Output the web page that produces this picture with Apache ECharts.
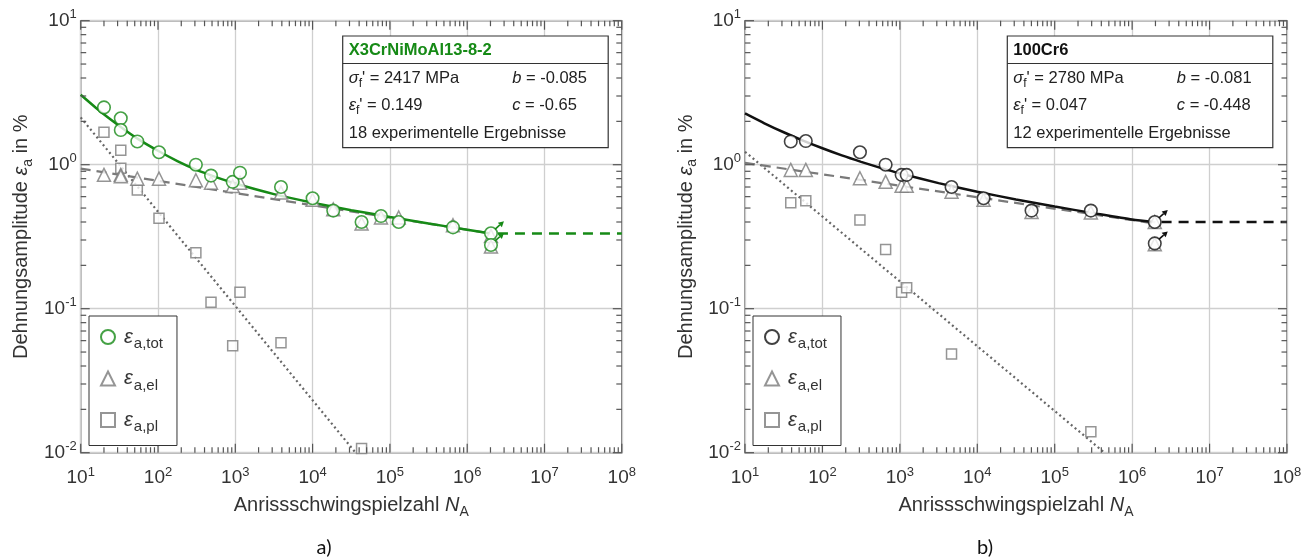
<!DOCTYPE html>
<html><head><meta charset="utf-8">
<script src="https://cdn.jsdelivr.net/npm/echarts@6/dist/echarts.min.js"></script>
<style>html,body{margin:0;padding:0;background:#fff}#c{width:1313px;height:559px}</style>
</head><body><div id="c"></div>
<script>
// ---------- Data: a) X3CrNiMoAl13-8-2 ----------
const totN_L = [20,33,33,54,103,309,485,925,1150,3900,10000,18500,43000,76700,130000,655000,2030000,2030000];
const totE_L = [2.5,2.1,1.74,1.45,1.22,1.0,0.84,0.76,0.88,0.70,0.585,0.48,0.40,0.44,0.40,0.367,0.334,0.277];
const elN_L  = [20,33,33,54,103,309,485,925,1150,3900,10000,18500,43000,76700,130000,655000,2030000,2030000];
const elE_L  = [0.85,0.85,0.83,0.80,0.80,0.78,0.75,0.71,0.75,0.64,0.57,0.49,0.39,0.43,0.43,0.38,0.32,0.27];
const plN_L  = [20,33,33,54,103,309,485,925,1150,3900,43000];
const plE_L  = [1.68,1.26,0.944,0.667,0.425,0.245,0.111,0.0553,0.130,0.058,0.0107];
const totFitN_L = [10,17.8,31.6,56.2,100,178,316,562,1000,3162,10000,31620,100000,316200,1000000,2000000];
const totFitE_L = [3.06,2.35,1.86,1.50,1.25,1.06,0.92,0.82,0.74,0.625,0.545,0.483,0.434,0.391,0.353,0.333];
const elFitN_L = [10,2000000];
const elFitE_L = [0.94,0.333];
const plFitN_L = [10,36000];
const plFitE_L = [2.13,0.01];
const runLineN_L = [2500000,100000000];
const runLineE_L = [0.333,0.333];
const runoutN_L = [2030000,2030000];
const runoutE_L = [0.334,0.277];
const info_L = {title:'X3CrNiMoAl13-8-2', sigma:'2417 MPa', b:'-0.085', eps:'0.149', c:'-0.65', count:'18 experimentelle Ergebnisse'};

// ---------- Data: b) 100Cr6 ----------
const totN_R = [39,61,305,655,1054,1225,4650,12050,50200,293000,1960000,1960000];
const totE_R = [1.45,1.46,1.22,1.0,0.85,0.85,0.70,0.585,0.48,0.48,0.40,0.284];
const elN_R  = [39,61,305,655,1054,1225,4650,12050,50200,293000,1960000,1960000];
const elE_R  = [0.92,0.92,0.805,0.76,0.715,0.715,0.65,0.57,0.47,0.466,0.40,0.28];
const plN_R  = [39,61,305,655,1054,1225,4650,293000];
const plE_R  = [0.545,0.562,0.413,0.258,0.130,0.140,0.0484,0.014];
const totFitN_R = [10,17.8,31.6,56.2,100,178,316,562,1000,3162,10000,31620,100000,316200,1000000,2000000];
const totFitE_R = [2.27,1.94,1.68,1.47,1.30,1.16,1.047,0.951,0.871,0.745,0.649,0.574,0.512,0.461,0.416,0.398];
const elFitN_R = [10,2000000];
const elFitE_R = [1.03,0.39];
const plFitN_R = [10,440000];
const plFitE_R = [1.23,0.01];
const runLineN_R = [2400000,100000000];
const runLineE_R = [0.40,0.40];
const runoutN_R = [1960000,1960000];
const runoutE_R = [0.40,0.284];
const info_R = {title:'100Cr6', sigma:'2780 MPa', b:'-0.081', eps:'0.047', c:'-0.448', count:'12 experimentelle Ergebnisse'};

// ---------- Axis ticks ----------
const X_MIN = 10, X_MAX = 1e8, Y_MIN = 0.01, Y_MAX = 10;
const xMajor = [1e1,1e2,1e3,1e4,1e5,1e6,1e7,1e8];
const yMajor = [1e-2,1e-1,1e0,1e1];
const mult = [2,3,4,5,6,7,8,9];
const xMinor = [], yMinor = [];
xMajor.slice(0,-1).forEach(d => mult.forEach(m => xMinor.push(m*d)));
yMajor.slice(0,-1).forEach(d => mult.forEach(m => yMinor.push(m*d)));

const FONT = '"Liberation Sans", Arial, sans-serif';
const GREEN = '#168a16';
const GRAY = '#7a7a7a';
const zip = (a,b) => a.map((v,i)=>[v,b[i]]);

function tickRender(params, api){
  const p0 = api.coord([X_MIN, Y_MIN]), p1 = api.coord([X_MAX, Y_MAX]);
  const x0=p0[0], y0=p0[1], x1=p1[0], y1=p1[1];
  const ch = [];
  const st = {stroke:'#555', lineWidth:1.2};
  const MAJ = 9, MIN = 5.5;
  const addX = (v,len)=>{const x=api.coord([v,Y_MIN])[0];
    ch.push({type:'line',shape:{x1:x,y1:y0,x2:x,y2:y0-len},style:st});
    ch.push({type:'line',shape:{x1:x,y1:y1,x2:x,y2:y1+len},style:st});};
  const addY = (v,len)=>{const y=api.coord([X_MIN,v])[1];
    ch.push({type:'line',shape:{x1:x0,y1:y,x2:x0+len,y2:y},style:st});
    ch.push({type:'line',shape:{x1:x1,y1:y,x2:x1-len,y2:y},style:st});};
  xMajor.forEach(v=>addX(v,MAJ)); xMinor.forEach(v=>addX(v,MIN));
  yMajor.forEach(v=>addY(v,MAJ)); yMinor.forEach(v=>addY(v,MIN));
  return {type:'group', children: ch};
}
function arrowRender(color){
  return function(params, api){
    const c = api.coord([api.value(0), api.value(1)]);
    const sx=c[0]+4, sy=c[1]-4, tx=c[0]+13, ty=c[1]-12;
    const dx=tx-sx, dy=ty-sy, L=Math.hypot(dx,dy), ux=dx/L, uy=dy/L, px=-uy, py=ux;
    const bx=tx-ux*5.5, by=ty-uy*5.5;
    return {type:'group', children:[
      {type:'line', shape:{x1:sx,y1:sy,x2:bx,y2:by}, style:{stroke:color, lineWidth:1.6}},
      {type:'polygon', shape:{points:[[tx,ty],[bx+px*3,by+py*3],[bx-px*3,by-py*3]]}, style:{fill:color}}
    ]};
  };
}
const supLabel = v => { const e = Math.round(Math.log10(v)); return '{b|10}{p|' + e + '}'; };
const labelRich = { b:{fontSize:19, fontFamily:FONT, color:'#333'}, p:{fontSize:13, fontFamily:FONT, color:'#333', padding:[0,0,12,0]} };

function xAx(gi){ return {type:'log', logBase:10, gridIndex:gi, min:X_MIN, max:X_MAX, splitNumber:7,
  axisLine:{show:false}, axisTick:{show:false},
  splitLine:{show:true, lineStyle:{color:'#cfcfcf', width:1.3}},
  axisLabel:{formatter:supLabel, rich:labelRich, margin:13},
  name:'Anrissschwingspielzahl {n|N}{s|A}', nameLocation:'middle', nameGap:40,
  nameTextStyle:{fontSize:20, fontFamily:FONT, color:'#333',
    rich:{n:{fontSize:20, fontStyle:'italic', fontFamily:FONT, color:'#333'}, s:{fontSize:14, fontFamily:FONT, color:'#333', padding:[12,0,0,0]}}}
};}
function yAx(gi){ return {type:'log', logBase:10, gridIndex:gi, min:Y_MIN, max:Y_MAX, splitNumber:3,
  axisLine:{show:false}, axisTick:{show:false},
  splitLine:{show:true, lineStyle:{color:'#cfcfcf', width:1.3}},
  axisLabel:{formatter:supLabel, rich:labelRich, margin:4},
  name:'Dehnungsamplitude {e|ε}{s|a} in %', nameLocation:'middle', nameGap:46,
  nameTextStyle:{fontSize:20, fontFamily:FONT, color:'#333',
    rich:{e:{fontSize:20, fontStyle:'italic', fontFamily:FONT, color:'#333'}, s:{fontSize:14, fontFamily:FONT, color:'#333', padding:[12,0,0,0]}}}
};}

function seriesFor(gi, P, d, color){
  const base = {xAxisIndex:gi, yAxisIndex:gi, silent:true, animation:false};
  return [
    Object.assign({type:'custom', renderItem:tickRender, data:[[X_MIN,1]], clip:false, z:5}, base),
    Object.assign({type:'line', data:zip(d.plFitN,d.plFitE), symbol:'none', lineStyle:{color:'#666', width:2.2, type:[2,3]}, z:2}, base),
    Object.assign({type:'line', data:zip(d.elFitN,d.elFitE), symbol:'none', lineStyle:{color:GRAY, width:2.2, type:[10,6]}, z:2}, base),
    Object.assign({type:'line', data:zip(d.totFitN,d.totFitE), symbol:'none', smooth:0.2, lineStyle:{color:color, width:2.5}, z:3}, base),
    Object.assign({type:'line', data:zip(d.runLineN,d.runLineE), symbol:'none', lineStyle:{color:color, width:2.5, type:[10,7]}, z:3}, base),
    Object.assign({type:'scatter', name:P+'_pl', data:zip(d.plN,d.plE), symbol:'rect', symbolSize:10, itemStyle:{color:'#fff', borderColor:GRAY, borderWidth:1.5}, z:4}, base),
    Object.assign({type:'scatter', name:P+'_el', data:zip(d.elN,d.elE), symbol:'triangle', symbolSize:13, itemStyle:{color:'#fff', borderColor:GRAY, borderWidth:1.5}, z:4}, base),
    Object.assign({type:'scatter', name:P+'_tot', data:zip(d.totN,d.totE), symbol:'circle', symbolSize:12.5, itemStyle:{color:'#fff', borderColor:color, borderWidth:1.6}, z:6}, base),
    Object.assign({type:'custom', renderItem:arrowRender(color), data:zip(d.runoutN,d.runoutE), clip:false, z:7}, base)
  ];
}

const dL = {totN:totN_L,totE:totE_L,elN:elN_L,elE:elE_L,plN:plN_L,plE:plE_L,totFitN:totFitN_L,totFitE:totFitE_L,
  elFitN:elFitN_L,elFitE:elFitE_L,plFitN:plFitN_L,plFitE:plFitE_L,runLineN:runLineN_L,runLineE:runLineE_L,runoutN:runoutN_L,runoutE:runoutE_L};
const dR = {totN:totN_R,totE:totE_R,elN:elN_R,elE:elE_R,plN:plN_R,plE:plE_R,totFitN:totFitN_R,totFitE:totFitE_R,
  elFitN:elFitN_R,elFitE:elFitE_R,plFitN:plFitN_R,plFitE:plFitE_R,runLineN:runLineN_R,runLineE:runLineE_R,runoutN:runoutN_R,runoutE:runoutE_R};

const legendNames = {tot:'{e|ε}{s|a,tot}', el:'{e|ε}{s|a,el}', pl:'{e|ε}{s|a,pl}'};
function legendFor(P, left){
  return {data:[P+'_tot',P+'_el',P+'_pl'], orient:'vertical', left:left, top:316,
    padding:[11,14,11,11], itemGap:17, itemWidth:14, itemHeight:14,
    borderColor:'#333', borderWidth:1, backgroundColor:'#fff', selectedMode:false, z:20,
    formatter: n => legendNames[n.split('_')[1]],
    textStyle:{fontFamily:FONT, color:'#333', rich:{
      e:{fontSize:20, fontStyle:'italic', fontFamily:FONT, color:'#333', padding:[0,0,0,4]},
      s:{fontSize:15, fontFamily:FONT, color:'#333', padding:[14,0,0,1]}}}};
}

function infoBox(x, info, titleColor){
  const y=36, w=265.5, h=111.7, col2 = x+169.5;
  const rich = {i:{fontSize:16.5, fontStyle:'italic', fontFamily:FONT, fill:'#222'},
                sub:{fontSize:12, fontFamily:FONT, fill:'#222', padding:[11,0,0,0]},
                n:{fontSize:16.5, fontFamily:FONT, fill:'#222'}};
  const t = (tx, ty, text, extra) => Object.assign({type:'text', x:tx, y:ty, z:30,
    style:Object.assign({text:text, rich:rich, fontSize:16.5, fontFamily:FONT, fill:'#222', verticalAlign:'middle'}, extra||{})});
  return [
    {type:'rect', z:29, shape:{x:x, y:y, width:w, height:h}, style:{fill:'#fff', stroke:'#333', lineWidth:1.2}},
    {type:'line', z:30, shape:{x1:x, y1:63.5, x2:x+w, y2:63.5}, style:{stroke:'#333', lineWidth:1.2}},
    t(x+6, 50.5, info.title, {fontWeight:'bold', fill:titleColor}),
    t(x+6, 78, '{i|σ}{sub|f}{n|\' = ' + info.sigma + '}'),
    t(col2, 78, '{i|b}{n| = ' + info.b + '}'),
    t(x+6, 105, '{i|ε}{sub|f}{n|\' = ' + info.eps + '}'),
    t(col2, 105, '{i|c}{n| = ' + info.c + '}'),
    t(x+6, 133, info.count)
  ];
}

const chart = echarts.init(document.getElementById('c'), null, {renderer:'canvas'});
chart.setOption({
  animation:false,
  backgroundColor:'#fff',
  grid:[
    {left:80.7, top:20.7, width:541.1, height:432, show:true, borderColor:'#707070', borderWidth:1.5, backgroundColor:'transparent'},
    {left:745, top:20.7, width:542, height:432, show:true, borderColor:'#707070', borderWidth:1.5, backgroundColor:'transparent'}
  ],
  xAxis:[xAx(0), xAx(1)],
  yAxis:[yAx(0), yAx(1)],
  legend:[legendFor('L', 89), legendFor('R', 753)],
  series:[].concat(seriesFor(0,'L',dL,GREEN), seriesFor(1,'R',dR,'#111')),
  graphic:[].concat(infoBox(342.7, info_L, GREEN), infoBox(1007.3, info_R, '#111'), [
    {type:'text', x:324, y:548, style:{text:'a)', fontSize:20, fontFamily:'Lato, "Open Sans", sans-serif', fill:'#111', align:'center', verticalAlign:'middle'}},
    {type:'text', x:985, y:548, style:{text:'b)', fontSize:20, fontFamily:'Lato, "Open Sans", sans-serif', fill:'#111', align:'center', verticalAlign:'middle'}}
  ])
});
</script></body></html>
